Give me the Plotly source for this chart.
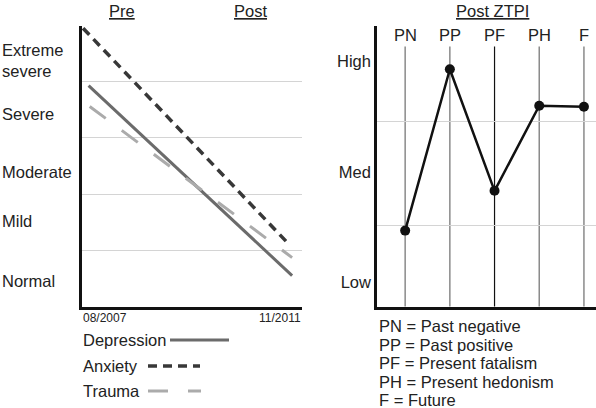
import plotly.graph_objects as go

# ---------------- data ----------------
severity_levels = ["Normal", "Mild", "Moderate", "Severe", "Extreme<br>severe"]
series_names = ["Depression", "Anxiety", "Trauma"]
pre_values = [3.93, 4.95, 3.56]
post_values = [0.55, 1.09, 0.87]
pre_time = [0.03, 0.005, 0.035]
post_time = [0.955, 0.945, 0.955]
date_labels = ["08/2007", "11/2011"]
phase_labels = ["Pre", "Post"]

ztpi_categories = ["PN", "PP", "PF", "PH", "F"]
ztpi_values = [1.47, 2.93, 1.83, 2.60, 2.59]
ztpi_levels = ["Low", "Med", "High"]
ztpi_legend = ["PN = Past negative", "PP = Past positive", "PF = Present fatalism",
               "PH = Present hedonism", "F = Future"]

# ---------------- styles ----------------
FONT = "Liberation Sans, Arial, Helvetica, sans-serif"
FS = 16.5
TXT = "#222222"
styles = {
    "Depression": dict(color="#6b6b6b", width=3, dash="solid"),
    "Anxiety": dict(color="#383838", width=3.5, dash="9px,6px"),
    "Trauma": dict(color="#ababab", width=3, dash="20px,20px"),
}
W, H = 596, 408


def px(x):
    return x / W


def py(y):
    return 1 - y / H


def ann(text, x, y, xref="paper", yref="paper", xanchor="center", size=FS, **fontkw):
    return dict(text=text, x=x, y=y, xref=xref, yref=yref, xanchor=xanchor, yanchor="middle",
                showarrow=False, align="left",
                font=dict(size=size, color=TXT, family=FONT, **fontkw))


fig = go.Figure()

for i, name in enumerate(series_names):
    fig.add_trace(go.Scatter(
        x=[pre_time[i], post_time[i]], y=[pre_values[i], post_values[i]],
        mode="lines", line=styles[name], showlegend=False,
        xaxis="x", yaxis="y", hoverinfo="skip"))

fig.add_trace(go.Scatter(
    x=ztpi_categories, y=ztpi_values, mode="lines+markers",
    line=dict(color="#111111", width=2.5), marker=dict(size=10, color="#111111"),
    showlegend=False, xaxis="x2", yaxis="y2", hoverinfo="skip"))

shapes = []
annotations = []

# vertical category lines in right panel + top labels
for i, c in enumerate(ztpi_categories):
    shapes.append(dict(type="line", xref="x2", yref="y2 domain", x0=i, x1=i, y0=0, y1=0.925,
                       line=dict(color="#111111" if c == "PF" else "#8a8a8a",
                                 width=1.2 if c == "PF" else 1.5), layer="below"))
    annotations.append(ann(c, i, py(35), xref="x2"))

# left level labels
level_pos = [0.46, 1.53, 2.4, 3.43, 4.38]
for lab, yv in zip(severity_levels, level_pos):
    annotations.append(ann(lab, 0.0, yv, yref="y", xanchor="left"))

# date labels
annotations.append(ann(date_labels[0], px(81), py(318), xanchor="left", size=12))
annotations.append(ann(date_labels[1], px(303), py(318), xanchor="right", size=12))

# Pre / Post titles
for lab, xc in zip(phase_labels, [122, 251]):
    annotations.append(ann(lab, px(xc), py(11), lineposition="under"))
annotations.append(ann("Post ZTPI", px(492), py(11), lineposition="under"))

# left legend
leg_rows = [(340, 170, 229), (366, 148, 200), (391, 148, 201)]
for name, (yy, x0, x1) in zip(series_names, leg_rows):
    annotations.append(ann(name, px(81), py(yy), xanchor="left"))
    shapes.append(dict(type="line", xref="paper", yref="paper", x0=px(x0), x1=px(x1),
                       y0=py(yy), y1=py(yy), line=styles[name]))

# right legend
for k, txt in enumerate(ztpi_legend):
    annotations.append(ann(txt, px(377), py(326 + k * 18.6), xanchor="left"))

ydom = [py(306.5), py(25.5)]
fig.update_layout(
    width=W, height=H, margin=dict(l=0, r=0, t=0, b=0, autoexpand=False),
    paper_bgcolor="white", plot_bgcolor="white",
    font=dict(family=FONT, size=FS, color=TXT),
    xaxis=dict(domain=[px(82), px(302)], range=[0, 1], showgrid=False, zeroline=False,
               showticklabels=False, showline=True, linecolor="#111", linewidth=2.5,
               automargin=False),
    yaxis=dict(domain=ydom, range=[0, 5], tickvals=[1, 2, 3, 4, 5], showgrid=True,
               gridcolor="#d4d4d4", gridwidth=1, zeroline=False, showticklabels=False,
               showline=True, linecolor="#111", linewidth=2.5, automargin=False),
    xaxis2=dict(domain=[px(377), 1.0], range=[-0.63, 4.27], type="category",
                categoryorder="array", categoryarray=ztpi_categories,
                showgrid=False, zeroline=False, showticklabels=False,
                showline=True, linecolor="#111", linewidth=2.5, automargin=False),
    yaxis2=dict(domain=ydom, range=[0.783, 3.326], anchor="x2",
                tickvals=[1, 2, 3], ticktext=ztpi_levels, showgrid=False, zeroline=False,
                tickfont=dict(size=FS, color=TXT, family=FONT),
                minor=dict(tickvals=[1.52, 2.46], showgrid=True, gridcolor="#d4d4d4", gridwidth=1),
                showline=True, linecolor="#111", linewidth=2.5, automargin=False),
    shapes=shapes, annotations=annotations,
)

fig.write_html("out.html", config={"displayModeBar": False},
               post_script="document.body.style.margin='0';")
